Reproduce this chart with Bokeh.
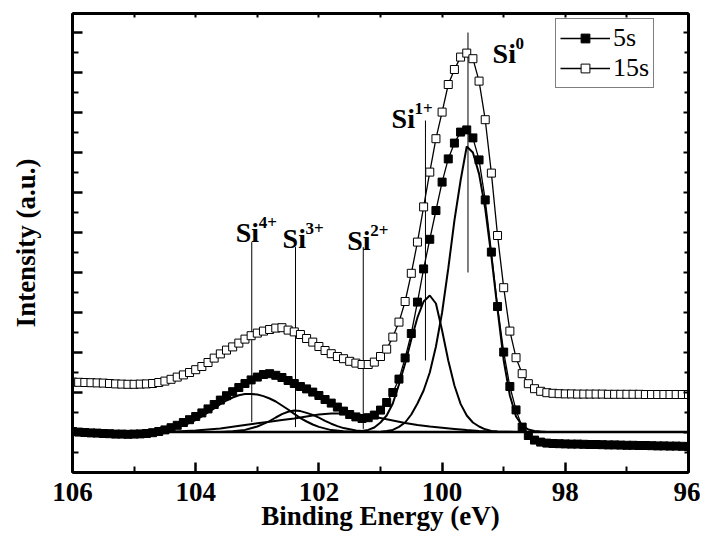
from bokeh.plotting import figure
from bokeh.models import Range1d, LinearAxis, FixedTicker, Legend, LegendItem, Label
from bokeh.embed import file_html
from bokeh.resources import INLINE

# ---------------- data ----------------
energy = [round(106 - 0.1 * i, 1) for i in range(101)]  # measurement grid, 106 -> 96 eV

s5 = [2.05, 2.02, 2.00, 1.98, 1.97, 1.95, 1.94, 1.92, 1.92, 1.91,
      1.92, 1.93, 1.95, 1.99, 2.05, 2.13, 2.24, 2.36, 2.50, 2.64,
      2.80, 2.98, 3.18, 3.40, 3.62, 3.84, 4.04, 4.25, 4.45, 4.63,
      4.77, 4.90, 4.94, 4.86, 4.75, 4.60, 4.45, 4.30, 4.18, 4.02,
      3.85, 3.65, 3.47, 3.27, 3.07, 2.90, 2.78, 2.70, 2.74, 2.87,
      3.12, 3.50, 4.00, 4.67, 5.73, 6.95, 8.52, 10.18, 11.66, 13.10,
      14.52, 15.68, 16.47, 17.02, 17.13, 16.73, 15.63, 13.63, 11.02, 8.30,
      6.02, 4.30, 3.13, 2.27, 1.85, 1.62, 1.52, 1.47, 1.45, 1.44,
      1.43, 1.42, 1.42, 1.41, 1.40, 1.40, 1.39, 1.38, 1.38, 1.37,
      1.36, 1.36, 1.35, 1.35, 1.34, 1.33, 1.33, 1.32, 1.32, 1.31,
      1.30]

s15 = [4.52, 4.51, 4.50, 4.49, 4.48, 4.47, 4.45, 4.43, 4.42, 4.41,
       4.41, 4.42, 4.43, 4.45, 4.50, 4.57, 4.66, 4.77, 4.88, 5.00,
       5.14, 5.30, 5.50, 5.72, 5.93, 6.12, 6.28, 6.47, 6.67, 6.84,
       6.97, 7.07, 7.15, 7.22, 7.24, 7.12, 7.03, 6.90, 6.70, 6.52,
       6.30, 6.10, 5.94, 5.80, 5.69, 5.56, 5.47, 5.40, 5.40, 5.52,
       5.80, 6.17, 6.77, 7.52, 8.55, 9.96, 11.52, 13.28, 15.02, 16.69,
       18.02, 19.40, 20.15, 20.77, 20.97, 20.69, 19.57, 17.64, 14.97, 11.85,
       9.24, 7.07, 5.74, 4.94, 4.44, 4.19, 4.06, 3.99, 3.96, 3.94,
       3.93, 3.93, 3.92, 3.92, 3.92, 3.92, 3.92, 3.91, 3.91, 3.91,
       3.91, 3.91, 3.91, 3.90, 3.90, 3.90, 3.90, 3.90, 3.90, 3.90,
       3.90]

baseline = 2.03
baseline_e = [106.0, 96.0]

si0_e = [101.0, 100.9, 100.8, 100.7, 100.6, 100.5, 100.4, 100.3, 100.2, 100.1,
         100.0, 99.9, 99.8, 99.7, 99.6, 99.5, 99.4, 99.3, 99.2, 99.1,
         99.0, 98.9, 98.8, 98.7, 98.6, 98.5, 98.4, 98.3]
si0_v = [2.04, 2.07, 2.13, 2.28, 2.50, 2.90, 3.45, 4.10, 5.00, 6.30,
         8.00, 10.20, 12.60, 14.60, 16.30, 16.00, 14.93, 13.20, 10.80, 8.15,
         5.60, 3.85, 2.80, 2.35, 2.15, 2.08, 2.05, 2.03]

si1_e = [101.4, 101.3, 101.2, 101.1, 101.0, 100.9, 100.8, 100.7, 100.6, 100.5,
         100.4, 100.3, 100.2, 100.1, 100.0, 99.9, 99.8, 99.7, 99.6, 99.5,
         99.4, 99.3, 99.2, 99.1]
si1_v = [2.04, 2.07, 2.13, 2.25, 2.50, 2.85, 3.45, 4.40, 5.45, 6.65,
         7.75, 8.55, 8.85, 8.45, 7.10, 5.60, 4.35, 3.43, 2.85, 2.50,
         2.30, 2.16, 2.08, 2.05]

si2_e = [104.4, 104.0, 103.6, 103.2, 103.0, 102.8, 102.6, 102.4, 102.2, 102.0,
         101.8, 101.6, 101.4, 101.2, 101.0, 100.8, 100.6, 100.4, 100.2, 100.0,
         99.8, 99.6, 99.4, 99.2, 99.0, 98.8]
si2_v = [2.04, 2.10, 2.20, 2.38, 2.46, 2.54, 2.62, 2.70, 2.80, 2.90,
         2.95, 2.95, 2.90, 2.82, 2.72, 2.60, 2.48, 2.38, 2.30, 2.24,
         2.18, 2.12, 2.08, 2.05, 2.04, 2.03]

si3_e = [103.6, 103.4, 103.2, 103.0, 102.9, 102.8, 102.7, 102.6, 102.5, 102.4,
         102.3, 102.2, 102.1, 102.0, 101.9, 101.8, 101.7, 101.6, 101.4, 101.2,
         101.0]
si3_v = [2.03, 2.06, 2.13, 2.30, 2.43, 2.57, 2.75, 2.92, 3.04, 3.10,
         3.07, 2.98, 2.88, 2.74, 2.58, 2.44, 2.32, 2.22, 2.10, 2.05,
         2.03]

si4_e = [104.8, 104.6, 104.4, 104.2, 104.0, 103.9, 103.8, 103.7, 103.6, 103.5,
         103.4, 103.3, 103.2, 103.1, 103.0, 102.9, 102.8, 102.7, 102.6, 102.5,
         102.4, 102.3, 102.2, 102.1, 102.0, 101.8, 101.6, 101.4]
si4_v = [2.05, 2.10, 2.20, 2.35, 2.62, 2.80, 3.00, 3.20, 3.42, 3.60,
         3.75, 3.86, 3.92, 3.93, 3.90, 3.82, 3.70, 3.55, 3.35, 3.15,
         2.93, 2.72, 2.55, 2.40, 2.28, 2.12, 2.06, 2.03]

# peak markers and labels
peak_sup = ["4+", "3+", "2+", "1+", "0"]
marker_e = [103.09, 102.38, 101.28, 100.27, 99.58]
marker_top = [11.52, 11.27, 11.27, 17.6, 22.0]
marker_bottom = [2.52, 2.27, 2.18, 5.6, 10.0]
label_e = [103.35, 102.59, 101.54, 100.82, 99.18]
label_v = [12.0, 11.7, 11.6, 17.7, 20.95]

x_major = [106, 104, 102, 100, 98, 96]
x_minor = [105, 103, 101, 99, 97]
y_major = [2, 4, 6, 8, 10, 12, 14, 16, 18, 20, 22]
y_minor = [1, 3, 5, 7, 9, 11, 13, 15, 17, 19, 21]

x_title = "Binding Energy (eV)"
y_title = "Intensity (a.u.)"

# ---------------- figure ----------------
FONT = "Liberation Serif"

p = figure(frame_width=616, frame_height=459, x_range=Range1d(106, 96), y_range=Range1d(0, 22.95),
           output_backend="svg", toolbar_location=None,
           min_border_left=72, min_border_right=12, min_border_top=13, min_border_bottom=40)
p.xgrid.visible = False
p.ygrid.visible = False
p.outline_line_color = "black"
p.outline_line_width = 2
p.background_fill_color = "white"
p.border_fill_color = "white"

xt = FixedTicker(ticks=x_major, minor_ticks=x_minor)
yt = FixedTicker(ticks=y_major, minor_ticks=y_minor)

xa = p.xaxis[0]
xa.ticker = xt
xa.axis_label = x_title
ya = p.yaxis[0]
ya.ticker = yt
ya.axis_label = y_title

for ax in (xa, ya):
    ax.axis_line_width = 3
    ax.axis_line_color = "black"
    ax.major_tick_line_color = "black"
    ax.minor_tick_line_color = "black"
    ax.major_tick_line_width = 2.5
    ax.minor_tick_line_width = 2
    ax.major_tick_in = 10
    ax.major_tick_out = 0
    ax.minor_tick_in = 6
    ax.minor_tick_out = 0
    ax.axis_label_text_font = FONT
    ax.axis_label_text_font_style = "bold"
    ax.axis_label_text_font_size = "27px"
    ax.axis_label_text_color = "black"
    ax.major_label_text_font = FONT
    ax.major_label_text_font_style = "bold"
    ax.major_label_text_font_size = "27px"
    ax.major_label_text_color = "black"

xa.major_label_standoff = 10
xa.axis_label_standoff = -3
ya.major_label_overrides = {t: "" for t in y_major}
ya.major_label_text_font_size = "0px"
ya.major_label_standoff = 0
ya.axis_label_standoff = 32

ra = LinearAxis(ticker=yt, major_label_overrides={t: "" for t in y_major},
                major_label_text_font_size="0px", major_label_standoff=0,
                axis_line_width=3, major_tick_in=5, major_tick_out=0,
                minor_tick_in=4, minor_tick_out=0, major_tick_line_width=2,
                minor_tick_line_width=2)
p.add_layout(ra, "right")
ta = LinearAxis(ticker=xt, major_label_overrides={t: "" for t in x_major},
                major_label_text_font_size="0px", major_label_standoff=0,
                axis_line_width=3, major_tick_in=4, major_tick_out=0,
                minor_tick_in=4, minor_tick_out=0, major_tick_line_width=2,
                minor_tick_line_width=2)
p.add_layout(ta, "above")

# fitted components
p.line(baseline_e, [baseline, baseline], line_color="black", line_width=2.5)
for ce, cv in ((si4_e, si4_v), (si3_e, si3_v), (si2_e, si2_v), (si1_e, si1_v), (si0_e, si0_v)):
    p.line(ce, cv, line_color="black", line_width=2)

# peak position markers
p.segment(x0=marker_e, y0=marker_bottom, x1=marker_e, y1=marker_top,
          line_color="black", line_width=1)

# data series
l15 = p.line(energy, s15, line_color="black", line_width=1.3)
m15 = p.scatter(energy, s15, marker="square", size=8, fill_color="white",
                line_color="black", line_width=1)
l5 = p.line(energy, s5, line_color="black", line_width=1.3)
m5 = p.scatter(energy, s5, marker="square", size=8, fill_color="black",
               line_color="black", line_width=1)

# peak labels
for le, lv, sup in zip(label_e, label_v, peak_sup):
    p.add_layout(Label(x=le, y=lv, text="Si", text_font=FONT, text_font_style="bold",
                       text_font_size="28px", text_baseline="alphabetic", text_align="left",
                       text_color="black"))
    p.add_layout(Label(x=le, y=lv, x_offset=23, y_offset=10, text=sup, text_font=FONT,
                       text_font_style="bold", text_font_size="17px",
                       text_baseline="alphabetic", text_align="left", text_color="black"))

legend = Legend(items=[LegendItem(label="5s", renderers=[l5, m5]),
                       LegendItem(label="15s", renderers=[l15, m15])],
                location=(483, 384))
legend.label_text_font = FONT
legend.label_text_font_size = "26px"
legend.label_text_color = "black"
legend.border_line_color = "black"
legend.border_line_width = 1
legend.background_fill_alpha = 1
legend.glyph_width = 50
legend.glyph_height = 22
legend.label_height = 22
legend.label_standoff = 3
legend.spacing = 0
legend.padding = 4
legend.margin = 0
p.add_layout(legend)

open("out.html", "w").write(file_html(p, INLINE))
